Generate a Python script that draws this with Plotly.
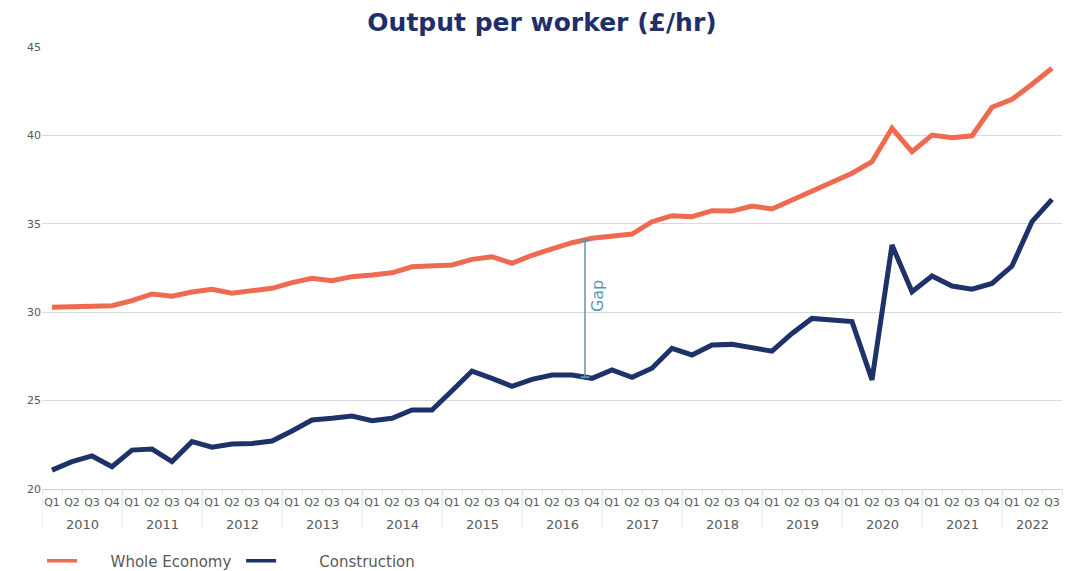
import plotly.graph_objects as go

years = ["2010", "2011", "2012", "2013", "2014", "2015", "2016",
         "2017", "2018", "2019", "2020", "2021", "2022"]
quarters = ["Q1", "Q2", "Q3", "Q4"]
series_names = ["Whole Economy", "Construction"]

whole_economy = [30.28, 30.30, 30.33, 30.37, 30.65, 31.03, 30.90, 31.14,
                 31.30, 31.07, 31.22, 31.35, 31.67, 31.92, 31.78, 32.01,
                 32.10, 32.23, 32.57, 32.61, 32.67, 32.99, 33.14, 32.77,
                 33.22, 33.58, 33.93, 34.18, 34.31, 34.42, 35.12, 35.46,
                 35.40, 35.74, 35.72, 36.00, 35.84, 36.35, 36.82, 37.30,
                 37.86, 38.51, 40.40, 39.08, 40.02, 39.87, 39.98, 41.59,
                 42.04, 42.89, 43.80]
construction = [21.07, 21.55, 21.87, 21.26, 22.20, 22.26, 21.55, 22.68,
                22.36, 22.55, 22.58, 22.71, 23.28, 23.90, 24.00, 24.13,
                23.86, 24.00, 24.47, 24.47, 25.56, 26.67, 26.26, 25.81,
                26.20, 26.45, 26.45, 26.26, 26.73, 26.32, 26.83, 27.96,
                27.58, 28.15, 28.18, 27.99, 27.80, 28.80, 29.65, 29.56,
                29.47, 26.17, 33.80, 31.16, 32.05, 31.48, 31.30, 31.63,
                32.61, 35.12, 36.38]

n = len(whole_economy)
idx = list(range(n))
q_labels = [quarters[i % 4] for i in idx]

# gap marker between 2016 Q3 and Q4
gap_i = 26
gap_frac = 0.65
gap_x = gap_i + gap_frac
gap_top = whole_economy[gap_i] + gap_frac * (whole_economy[gap_i + 1] - whole_economy[gap_i])
gap_bot = construction[gap_i] + gap_frac * (construction[gap_i + 1] - construction[gap_i])

ORANGE = "#ee6a50"
NAVY = "#1f3169"
GAPC = "#5b95b0"
GRAY = "#595959"
FONT = "DejaVu Sans"
NB = "\u00a0"

fig = go.Figure()
fig.add_trace(go.Scatter(x=idx, y=whole_economy, mode="lines",
                         name=series_names[0], showlegend=False,
                         line=dict(color=ORANGE, width=5)))
fig.add_trace(go.Scatter(x=idx, y=construction, mode="lines",
                         name=series_names[1], showlegend=False,
                         line=dict(color=NAVY, width=5)))
# legend entries (thinner sample lines, as in the original)
fig.add_trace(go.Scatter(x=[None], y=[None], mode="lines",
                         name=NB * 6 + series_names[0] + NB,
                         line=dict(color=ORANGE, width=3.5)))
fig.add_trace(go.Scatter(x=[None], y=[None], mode="lines",
                         name=NB * 8 + series_names[1],
                         line=dict(color=NAVY, width=3.5)))

# gap bracket
fig.add_shape(type="line", x0=gap_x, x1=gap_x, y0=gap_top, y1=gap_bot,
              xref="x", yref="y", line=dict(color=GAPC, width=1.5))
for yv in (gap_top, gap_bot):
    fig.add_shape(type="line", x0=gap_x - 0.22, x1=gap_x + 0.22, y0=yv, y1=yv,
                  xref="x", yref="y", line=dict(color=GAPC, width=2))
fig.add_annotation(x=gap_x + 0.6, y=(gap_top + gap_bot) / 2 + 0.7, text="Gap",
                   textangle=-90, showarrow=False, xref="x", yref="y",
                   font=dict(family=FONT, size=16, color=GAPC))

# year group labels and dividers
for k, yr in enumerate(years):
    members = [i for i in idx if i // 4 == k]
    fig.add_annotation(x=sum(members) / len(members), y=-0.0814, text=yr,
                       xref="x", yref="paper", showarrow=False,
                       yanchor="middle",
                       font=dict(family=FONT, size=13, color=GRAY))
    xb = members[0] - 0.5
    fig.add_shape(type="line", x0=xb, x1=xb, y0=0, y1=-0.088,
                  xref="x", yref="paper",
                  line=dict(color="#e3e3e3", width=1))

fig.update_layout(
    width=1068, height=563,
    margin=dict(l=34, r=14, t=39, b=82, autoexpand=False),
    paper_bgcolor="white", plot_bgcolor="white",
    font=dict(family=FONT, color=GRAY),
    title=dict(text="<b>Output per worker (£/hr)</b>", x=0.5, xanchor="center",
               y=0.974, yanchor="middle",
               font=dict(family=FONT, size=25, color="#1f2f6b")),
    showlegend=True,
    legend=dict(orientation="h", x=0.0, xanchor="left", y=-0.163, yanchor="middle",
                font=dict(family=FONT, size=15, color=GRAY),
                bgcolor="rgba(0,0,0,0)"),
)
fig.update_yaxes(range=[20, 45], dtick=5, showgrid=True, gridcolor="#d9d9d9",
                 gridwidth=1, zeroline=False, showline=False, automargin=False,
                 ticks="", tickfont=dict(family=FONT, size=11, color=GRAY))
fig.update_xaxes(range=[-0.5, n - 0.5], showgrid=False, showline=True,
                 linecolor="#d0d0d0", linewidth=1, zeroline=False, automargin=False,
                 tickmode="array", tickvals=idx, ticktext=q_labels, tickangle=0,
                 ticks="outside", ticklen=3, tickcolor="rgba(0,0,0,0)",
                 minor=dict(tickmode="array", tickvals=[i - 0.5 for i in idx] + [n - 0.5],
                            ticks="outside", ticklen=5, tickcolor="#e0e0e0",
                            showgrid=False),
                 tickfont=dict(family=FONT, size=11, color=GRAY))

fig.write_html("out.html")
